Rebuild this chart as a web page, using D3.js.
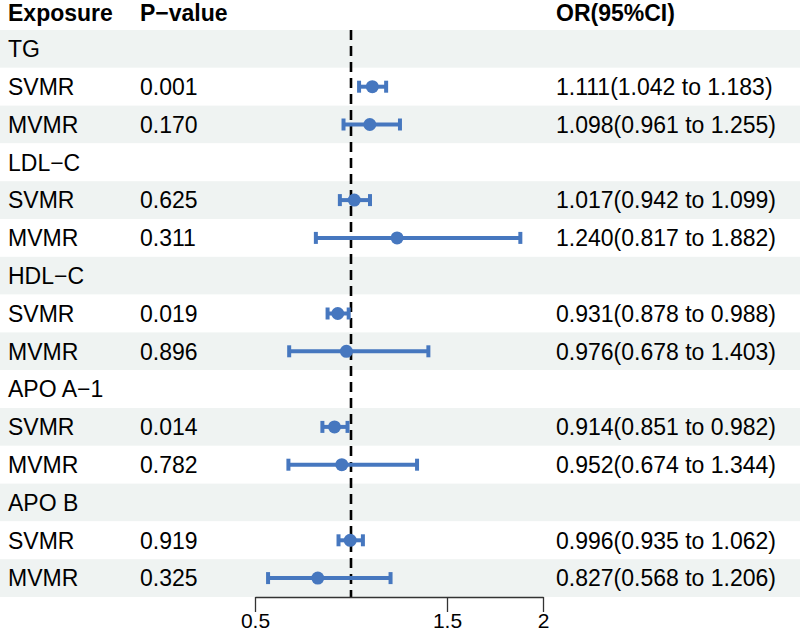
<!DOCTYPE html>
<html>
<head>
<meta charset="utf-8">
<script src="https://cdn.jsdelivr.net/npm/d3@7"></script>
<style>
  body { margin: 0; background: #fff; }
  text { font-family: "Liberation Sans", Arial, sans-serif; }
</style>
</head>
<body>
<svg id="chart" width="800" height="635"></svg>
<script>
// exposure groups and the two methods under each
const exposures = ["TG", "LDL\u2212C", "HDL\u2212C", "APO A\u22121", "APO B"];
const methods = ["SVMR", "MVMR"];

// per estimate, in order: exposure x method
const pValues = ["0.001", "0.170", "0.625", "0.311", "0.019", "0.896", "0.014", "0.782", "0.919", "0.325"];
const orValues = [1.111, 1.098, 1.017, 1.240, 0.931, 0.976, 0.914, 0.952, 0.996, 0.827];
const lowerCI = [1.042, 0.961, 0.942, 0.817, 0.878, 0.678, 0.851, 0.674, 0.935, 0.568];
const upperCI = [1.183, 1.255, 1.099, 1.882, 0.988, 1.403, 0.982, 1.344, 1.062, 1.206];

const xTicks = [0.5, 1.5, 2];
const headers = ["Exposure", "P\u2212value", "OR(95%CI)"];

const width = 800, height = 635;
const headerH = 30;
const rowH = 37.8;
const blue = "#4677bf";

// build table rows: one header row per exposure, then one per method
const rows = [];
exposures.forEach((ex, gi) => {
  rows.push({ label: ex, group: true });
  methods.forEach((m, mi) => {
    const k = gi * methods.length + mi;
    rows.push({
      label: m, group: false, p: pValues[k],
      or: orValues[k], lo: lowerCI[k], hi: upperCI[k]
    });
  });
});

const svg = d3.select("#chart");

const y = d3.scaleBand()
  .domain(d3.range(rows.length))
  .range([headerH, headerH + rowH * rows.length])
  .paddingInner(0).paddingOuter(0);

const x = d3.scaleLinear().domain([0.5, 2]).range([255, 543]);

// alternating row backgrounds
svg.append("g").selectAll("rect")
  .data(rows)
  .join("rect")
  .attr("x", 0)
  .attr("width", width)
  .attr("y", (d, i) => y(i))
  .attr("height", y.bandwidth())
  .attr("fill", (d, i) => i % 2 === 0 ? "#eff3f2" : "#ffffff");

// header
const colX = [8, 140, 556];
svg.append("g").selectAll("text")
  .data(headers)
  .join("text")
  .attr("x", (d, i) => colX[i])
  .attr("y", 21)
  .attr("font-size", 23)
  .attr("font-weight", "bold")
  .attr("fill", "#000")
  .text(d => d);

// table text
const body = svg.append("g").attr("font-size", 23).attr("fill", "#000");
body.selectAll("text.lab")
  .data(rows)
  .join("text")
  .attr("class", "lab")
  .attr("x", colX[0])
  .attr("y", (d, i) => y(i) + y.bandwidth() / 2)
  .attr("dy", "0.36em")
  .text(d => d.label);

const est = rows.map((d, i) => ({ ...d, i })).filter(d => !d.group);

body.selectAll("text.p")
  .data(est)
  .join("text")
  .attr("class", "p")
  .attr("x", colX[1])
  .attr("y", d => y(d.i) + y.bandwidth() / 2)
  .attr("dy", "0.36em")
  .text(d => d.p);

body.selectAll("text.or")
  .data(est)
  .join("text")
  .attr("class", "or")
  .attr("x", colX[2])
  .attr("y", d => y(d.i) + y.bandwidth() / 2)
  .attr("dy", "0.36em")
  .text(d => `${d.or.toFixed(3)}(${d.lo.toFixed(3)} to ${d.hi.toFixed(3)})`);

// reference line at 1
const yTop = y.range()[0], yBot = y.range()[1];
svg.append("line")
  .attr("x1", x(1)).attr("x2", x(1))
  .attr("y1", yTop).attr("y2", yBot)
  .attr("stroke", "#000")
  .attr("stroke-width", 2.6)
  .attr("stroke-dasharray", "10,6");

// confidence intervals
const ci = svg.append("g");
const cy = d => y(d.i) + y.bandwidth() / 2;
ci.selectAll("line.ci")
  .data(est)
  .join("line")
  .attr("x1", d => x(d.lo)).attr("x2", d => x(d.hi))
  .attr("y1", cy).attr("y2", cy)
  .attr("stroke", blue).attr("stroke-width", 4);
["lo", "hi"].forEach(k => {
  ci.selectAll("line.cap-" + k)
    .data(est)
    .join("line")
    .attr("class", "cap-" + k)
    .attr("x1", d => x(d[k])).attr("x2", d => x(d[k]))
    .attr("y1", d => cy(d) - 6).attr("y2", d => cy(d) + 6)
    .attr("stroke", blue).attr("stroke-width", 4);
});
ci.selectAll("circle")
  .data(est)
  .join("circle")
  .attr("cx", d => x(d.or))
  .attr("cy", cy)
  .attr("r", 6.5)
  .attr("fill", blue);

// x axis
const axis = d3.axisBottom(x)
  .tickValues(xTicks)
  .tickFormat(d3.format("~g"))
  .tickSize(15)
  .tickSizeOuter(0)
  .tickPadding(1);
const ax = svg.append("g")
  .attr("transform", `translate(0,${yBot})`)
  .call(axis);
ax.select(".domain").attr("stroke", "#333").attr("stroke-width", 1.3);
ax.selectAll(".tick line").attr("stroke", "#333").attr("stroke-width", 1.3);
ax.selectAll(".tick text")
  .attr("font-family", "'Liberation Sans', Arial, sans-serif")
  .attr("font-size", 21)
  .attr("fill", "#000");
</script>
</body>
</html>
